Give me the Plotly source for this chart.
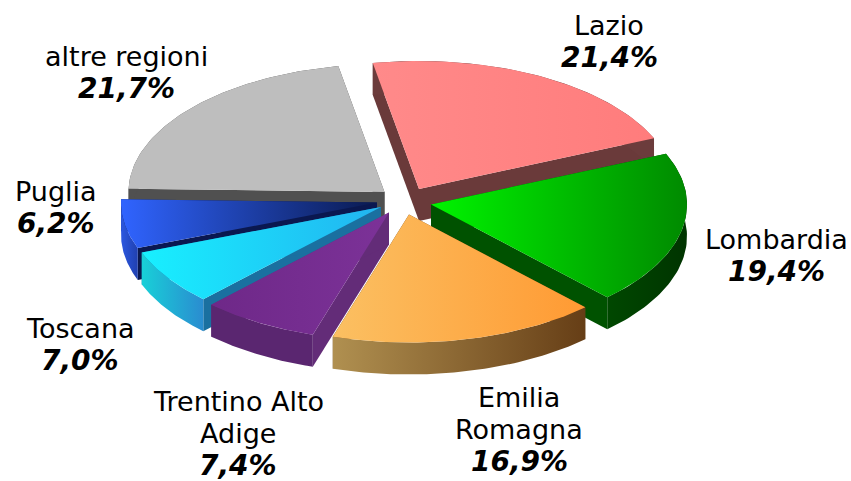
import math
import plotly.graph_objects as go

# --- data ---
regions = ["Lazio", "Lombardia", "Emilia<br>Romagna", "Trentino Alto<br>Adige", "Toscana", "Puglia", "altre regioni"]
shares = [21.4, 19.4, 16.9, 7.4, 7.0, 6.2, 21.7]

# --- geometry / style ---
W, H = 851, 481
A, B, DEPTH = 256, 128, 32
START = -10.4
LINE_GAP = 32
apex = [(419, 189), (431, 204.5), (409, 214.5), (389, 212.5), (381, 207), (377, 202.5), (384.5, 192)]
draw_order = [6, 0, 5, 1, 4, 3, 2]
top_colors = [("#FF8A8A", "#FF7C7C"), ("#00F400", "#008A00"), ("#FBC062", "#FF9A33"), ("#6E2888", "#7C3298"),
              ("#18F0FF", "#22B4F0"), ("#3064FF", "#0A1A50"), ("#BEBEBE", "#BEBEBE")]
arc_colors = [("#6C3C3C", "#6C3C3C"), ("#004800", "#003400"), ("#B09050", "#663E16"), ("#5A2670", "#5A2670"),
              ("#18D0D8", "#2A8CD0"), ("#2C58E0", "#2040B0"), ("#505050", "#505050")]
face_colors = ["#6A3A3A", "#005200", "#6A4018", "#632C78", "#1A70A0", "#0A1850", "#505050"]
label_pos = [(609, 57), (776, 271), (519, 461), (238, 465), (80, 360), (56, 223), (126, 88)]

fig = go.Figure()


def add_poly(xs, ys, c):
    grad = None
    if c[0] != c[1]:
        grad = dict(type="horizontal", colorscale=[[0, c[0]], [1, c[1]]])
    kw = dict(fillgradient=grad) if grad else dict(fillcolor=c[0])
    fig.add_trace(go.Scatter(x=xs, y=ys, mode="lines", fill="toself", line=dict(width=0),
                             hoverinfo="skip", showlegend=False, **kw))


total = sum(shares)
starts = []
acc = START
for s in shares:
    starts.append(acc)
    acc += s / total * 360

for i in draw_order:
    a0 = starts[i]
    a1 = a0 + shares[i] / total * 360
    tx, ty = apex[i]
    n = 60
    angs = [math.radians(a0 + (a1 - a0) * k / n) for k in range(n + 1)]
    ax = [tx + A * math.sin(t) for t in angs]
    ay = [ty - B * math.cos(t) for t in angs]
    # radial walls
    add_poly([tx, ax[0], ax[0], tx, tx], [ty, ay[0], ay[0] + DEPTH, ty + DEPTH, ty], (face_colors[i], face_colors[i]))
    add_poly([tx, ax[-1], ax[-1], tx, tx], [ty, ay[-1], ay[-1] + DEPTH, ty + DEPTH, ty], (face_colors[i], face_colors[i]))
    # outer wall
    add_poly(ax + ax[::-1] + [ax[0]], ay + [v + DEPTH for v in ay[::-1]] + [ay[0]], arc_colors[i])
    # top face
    add_poly([tx] + ax + [tx], [ty] + ay + [ty], top_colors[i])

for name, val, (x, y) in zip(regions, shares, label_pos):
    pct = f"{val:.1f}".replace(".", ",") + "%"
    fig.add_annotation(x=x, y=y, xref="x", yref="y", showarrow=False,
                       text=f"<b><i>{pct}</i></b>",
                       font=dict(family="DejaVu Sans", size=28, color="#000000"))
    lines = name.split("<br>")
    for k, line in enumerate(reversed(lines)):
        fig.add_annotation(x=x, y=y - LINE_GAP * (k + 1), xref="x", yref="y", showarrow=False,
                           text=line, font=dict(family="DejaVu Sans", size=27, color="#000000"))

fig.update_layout(width=W, height=H, margin=dict(l=0, r=0, t=0, b=0), paper_bgcolor="white", plot_bgcolor="white",
                  xaxis=dict(range=[0, W], visible=False, fixedrange=True),
                  yaxis=dict(range=[H, 0], visible=False, fixedrange=True), showlegend=False)
fig.write_html("out.html", post_script="document.body.style.margin='0';", config=dict(displayModeBar=False))
